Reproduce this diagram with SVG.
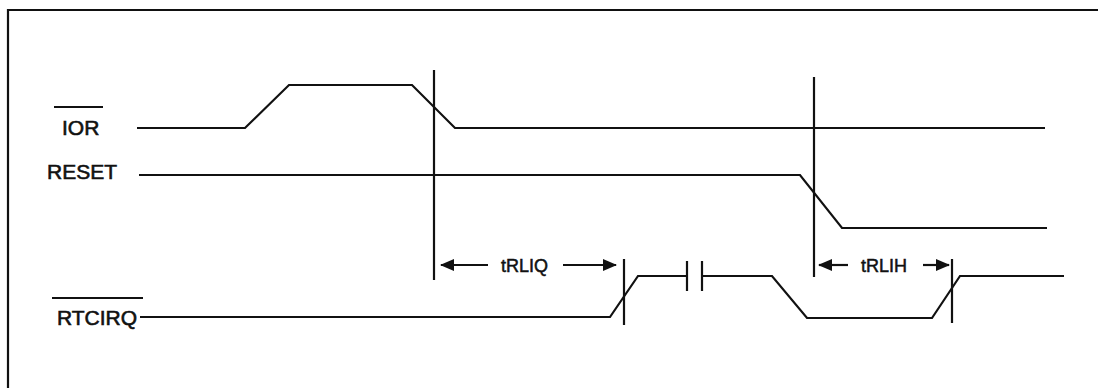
<svg xmlns="http://www.w3.org/2000/svg" width="1098" height="388" viewBox="0 0 1098 388">
<style>
.w{fill:none;stroke:#111;stroke-width:2.2;stroke-linejoin:miter}
.lbl{font-family:"Liberation Sans",Arial,sans-serif;font-size:21px;fill:#111;stroke:#111;stroke-width:0.6}
.t{font-family:"Liberation Sans",Arial,sans-serif;font-size:18px;fill:#111;stroke:#111;stroke-width:0.5}
</style>
<defs>
<marker id="ah" markerWidth="14" markerHeight="12" refX="13" refY="6" orient="auto-start-reverse" markerUnits="userSpaceOnUse" viewBox="0 0 14 12">
<path d="M0,0 L14,6 L0,12 Z" fill="#111"/>
</marker>
</defs>
<rect x="0" y="0" width="1098" height="388" fill="#fff"/>
<path class="w" d="M8,400 V10 H1110" stroke-width="2.5"/>
<g id="IOR">
<text class="lbl" x="62" y="135">IOR</text>
<line class="w" x1="54" y1="107" x2="103" y2="107"/>
<path class="w" d="M137,128 H245 L289,85 H412 L455,128 H1045"/>
</g>
<g id="RESET">
<text class="lbl" x="47" y="179">RESET</text>
<path class="w" d="M139,175 H800 L842,228 H1047"/>
</g>
<g id="RTCIRQ">
<text class="lbl" x="57" y="325">RTCIRQ</text>
<line class="w" x1="52" y1="298" x2="143" y2="298"/>
<path class="w" d="M140,317 H610 L638,276 H687"/>
<path class="w" d="M702,276 H772 L807,318 H932 L960,276 H1064"/>
<line class="w" x1="687" y1="261" x2="687" y2="291"/>
<line class="w" x1="702" y1="261" x2="702" y2="291"/>
</g>
<g id="connectors">
<line class="w" x1="434" y1="70" x2="434" y2="280"/>
<line class="w" x1="814" y1="77" x2="814" y2="277"/>
<line class="w" x1="624" y1="259" x2="624" y2="325"/>
<line class="w" x1="952" y1="259" x2="952" y2="323"/>
<line class="w" x1="488" y1="265" x2="441" y2="265" marker-end="url(#ah)"/>
<line class="w" x1="563" y1="265" x2="616" y2="265" marker-end="url(#ah)"/>
<line class="w" x1="848" y1="265" x2="819" y2="265" marker-end="url(#ah)"/>
<line class="w" x1="923" y1="265" x2="949" y2="265" marker-end="url(#ah)"/>
</g>
<g id="labels">
<text class="t" x="501" y="272">tRLIQ</text>
<text class="t" x="861" y="272">tRLIH</text>
</g>
</svg>
